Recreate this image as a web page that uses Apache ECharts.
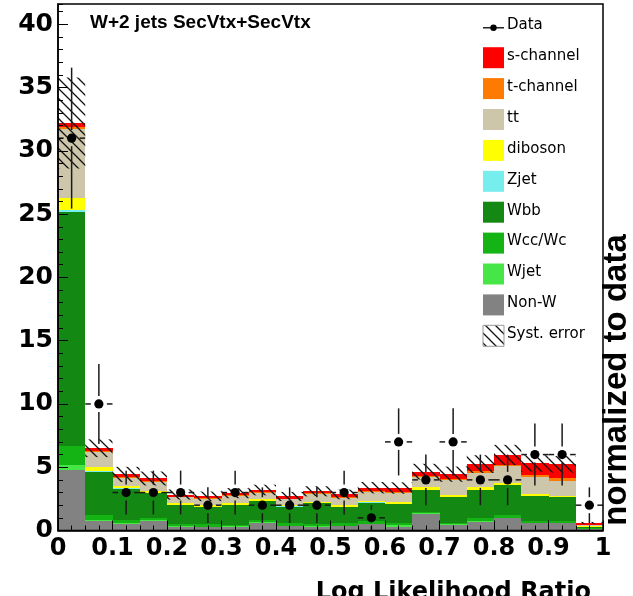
<!DOCTYPE html>
<html>
<head>
<meta charset="utf-8">
<script src="https://cdn.jsdelivr.net/npm/echarts@6/dist/echarts.min.js"></script>
<style>
  html, body { margin: 0; padding: 0; background: #fff; }
  #chart { width: 633px; height: 596px; }
</style>
</head>
<body>
<div id="chart"></div>
<script>
// Histogram bin edges of the log-likelihood-ratio discriminant
const binEdges = [0, 0.05, 0.1, 0.15, 0.2, 0.25, 0.3, 0.35, 0.4, 0.45, 0.5,
                  0.55, 0.6, 0.65, 0.7, 0.75, 0.8, 0.85, 0.9, 0.95, 1.0];

// Expected events per bin for each process (stacked bottom to top)
const nonW     = [4.80, 0.77, 0.55, 0.78, 0.30, 0.25, 0.30, 0.62, 0.35, 0.30, 0.35, 0.50, 0.30, 1.30, 0.43, 0.70, 0.96, 0.57, 0.57, 0.10];
const wjet     = [0.35, 0.05, 0.05, 0.04, 0.05, 0.05, 0.04, 0.04, 0.04, 0.04, 0.04, 0.04, 0.10, 0.05, 0.05, 0.06, 0.06, 0.05, 0.05, 0.03];
const wccWc    = [1.55, 0.40, 0.25, 0.15, 0.20, 0.20, 0.12, 0.18, 0.18, 0.20, 0.18, 0.18, 0.20, 0.14, 0.14, 0.20, 0.18, 0.13, 0.13, 0.07];
const wbb      = [18.5, 3.43, 2.45, 1.97, 1.45, 1.33, 1.54, 1.50, 1.31, 1.61, 1.26, 1.48, 1.50, 1.71, 2.00, 2.24, 2.40, 1.98, 1.87, 0.10];
const zjet     = [0.15, 0.03, 0.03, 0.03, 0.02, 0.02, 0.02, 0.02, 0.02, 0.02, 0.02, 0.02, 0.02, 0.03, 0.03, 0.03, 0.03, 0.02, 0.02, 0.01];
const diboson  = [0.95, 0.32, 0.20, 0.17, 0.18, 0.13, 0.13, 0.12, 0.12, 0.12, 0.15, 0.12, 0.12, 0.17, 0.15, 0.17, 0.15, 0.14, 0.11, 0.04];
const ttbar    = [5.45, 1.20, 0.65, 0.72, 0.42, 0.52, 0.58, 0.52, 0.45, 0.60, 0.60, 0.73, 0.76, 0.80, 1.20, 1.17, 1.32, 1.31, 1.20, 0.05];
const tChannel = [0.10, 0.05, 0.05, 0.05, 0.04, 0.04, 0.04, 0.04, 0.04, 0.05, 0.05, 0.06, 0.06, 0.08, 0.10, 0.10, 0.10, 0.18, 0.18, 0.06];
const sChannel = [0.35, 0.25, 0.20, 0.20, 0.18, 0.16, 0.18, 0.16, 0.18, 0.16, 0.20, 0.25, 0.30, 0.37, 0.35, 0.58, 0.77, 0.92, 1.10, 0.14];

// Systematic uncertainty on the total prediction per bin
const systErr  = [3.60, 0.70, 0.60, 0.55, 0.40, 0.38, 0.40, 0.42, 0.36, 0.40, 0.38, 0.45, 0.45, 0.62, 0.60, 0.70, 0.80, 0.65, 0.65, 0.08];

// Observed events and their statistical errors
const dataCounts = [31, 10, 3, 3, 3, 2, 3, 2, 2, 2, 3, 1, 7, 4, 7, 4, 4, 6, 6, 2];
const dataErrors = [5.57, 3.16, 1.73, 1.73, 1.73, 1.41, 1.73, 1.41, 1.41, 1.41, 1.73, 1.00, 2.65, 2.00, 2.65, 2.00, 2.00, 2.45, 2.45, 1.41];

// Process names and fill colours, bottom of the stack first
const processNames  = ['Non-W', 'Wjet', 'Wcc/Wc', 'Wbb', 'Zjet', 'diboson', 'tt', 't-channel', 's-channel'];
const processValues = [nonW, wjet, wccWc, wbb, zjet, diboson, ttbar, tChannel, sChannel];
const processColors = ['#828282', '#46e646', '#14b414', '#138813', '#76eeee', '#ffff00', '#cdc6aa', '#ff7a00', '#ff0000'];

// Legend entries, top to bottom
const legendNames = ['Data', 's-channel', 't-channel', 'tt', 'diboson', 'Zjet', 'Wbb', 'Wcc/Wc', 'Wjet', 'Non-W', 'Syst. error'];

const yMax = 41.6;
const AXIS_FONT = 'DejaVu Sans';
const TEXT_FONT = 'Liberation Sans, Arial, sans-serif';

// Diagonal hatch tile for the systematic band
function makeHatch() {
  const s = 10;
  const c = document.createElement('canvas');
  c.width = s; c.height = s;
  const g = c.getContext('2d');
  g.strokeStyle = '#111';
  g.lineWidth = 1.3;
  g.beginPath();
  g.moveTo(0, 0); g.lineTo(s, s);
  g.moveTo(-1, s - 1); g.lineTo(1, s + 1);
  g.moveTo(s - 1, -1); g.lineTo(s + 1, 1);
  g.stroke();
  return c;
}
const hatch = { image: makeHatch(), repeat: 'repeat' };

// Cumulative stack edges
const nBins = dataCounts.length;
const stackTops = [];
let running = new Array(nBins).fill(0);
processValues.forEach(vals => {
  const bottoms = running.slice();
  running = running.map((r, i) => r + vals[i]);
  stackTops.push({ bottoms, tops: running.slice() });
});
const totals = running;

function rectItem(params, api) {
  const p0 = api.coord([api.value(0), api.value(3)]);
  const p1 = api.coord([api.value(1), api.value(2)]);
  const x0 = Math.round(p0[0]), x1 = Math.round(p1[0]);
  const y0 = Math.round(p0[1]), y1 = Math.round(p1[1]);
  return {
    type: 'rect',
    shape: { x: x0, y: y0, width: x1 - x0, height: y1 - y0 },
    style: { fill: api.visual('color') }
  };
}

const series = [];
processNames.forEach((name, k) => {
  series.push({
    name: name,
    type: 'custom',
    z: 2,
    itemStyle: { color: processColors[k] },
    encode: { x: [0, 1], y: [2, 3] },
    renderItem: rectItem,
    data: binEdges.slice(0, nBins).map((lo, i) =>
      [lo, binEdges[i + 1], stackTops[k].bottoms[i], stackTops[k].tops[i]])
  });
});

// Hatched systematic band around the total prediction
series.push({
  name: 'Syst. error',
  type: 'custom',
  z: 3,
  encode: { x: [0, 1], y: [2, 3] },
  renderItem: function (params, api) {
    const p0 = api.coord([api.value(0), api.value(3)]);
    const p1 = api.coord([api.value(1), api.value(2)]);
    return {
      type: 'rect',
      shape: { x: p0[0], y: p0[1], width: p1[0] - p0[0], height: p1[1] - p0[1] },
      style: { fill: hatch }
    };
  },
  data: binEdges.slice(0, nBins).map((lo, i) =>
    [lo, binEdges[i + 1], totals[i] - systErr[i], totals[i] + systErr[i]])
});

// Data points with error bars
series.push({
  name: 'Data',
  type: 'custom',
  z: 6,
  encode: { x: [0, 1], y: [2] },
  renderItem: function (params, api) {
    const lo = api.value(0), hi = api.value(1), v = api.value(2), e = api.value(3);
    const c = api.coord([(lo + hi) / 2, v]);
    const left = api.coord([lo, v])[0], right = api.coord([hi, v])[0];
    const top = api.coord([lo, v + e])[1], bot = api.coord([lo, Math.max(v - e, 0)])[1];
    const gap = 8;
    const line = (x1, y1, x2, y2) => ({
      type: 'line', shape: { x1, y1, x2, y2 },
      style: { stroke: '#1a1a1a', lineWidth: 1.5 }
    });
    return {
      type: 'group',
      children: [
        line(left, c[1], c[0] - gap, c[1]),
        line(c[0] + gap, c[1], right, c[1]),
        line(c[0], top, c[0], c[1] - gap),
        line(c[0], c[1] + gap, c[0], bot),
        { type: 'circle', shape: { cx: c[0], cy: c[1], r: 4.6 }, style: { fill: '#000' } }
      ]
    };
  },
  data: binEdges.slice(0, nBins).map((lo, i) => [lo, binEdges[i + 1], dataCounts[i], dataErrors[i]])
});

// Legend block drawn as graphic elements
const legendColorOf = {};
processNames.forEach((n, k) => { legendColorOf[n] = processColors[k]; });
const legendGraphics = [];
const legX = 483, legY0 = 26.8, legStep = 30.9;
legendNames.forEach((name, i) => {
  const cy = legY0 + i * legStep;
  if (name === 'Data') {
    legendGraphics.push({ type: 'line', shape: { x1: legX, y1: cy + 1, x2: legX + 21, y2: cy + 1 },
      style: { stroke: '#000', lineWidth: 1.3 } });
    legendGraphics.push({ type: 'circle', shape: { cx: legX + 10.5, cy: cy + 1, r: 3.2 },
      style: { fill: '#000' } });
  } else if (name === 'Syst. error') {
    legendGraphics.push({ type: 'rect', shape: { x: legX, y: cy - 10.5, width: 21, height: 21 },
      style: { fill: hatch, stroke: '#999', lineWidth: 1 } });
  } else {
    legendGraphics.push({ type: 'rect', shape: { x: legX, y: cy - 10.5, width: 21, height: 21 },
      style: { fill: legendColorOf[name] } });
  }
  legendGraphics.push({ type: 'text', x: legX + 24, y: cy - 1.5,
    style: { text: name, fill: '#000', font: '15px ' + AXIS_FONT, textVerticalAlign: 'middle' } });
});

const chart = echarts.init(document.getElementById('chart'), null, { renderer: 'canvas' });
chart.setOption({
  animation: false,
  backgroundColor: '#fff',
  grid: { left: 58, right: 30, top: 4, bottom: 65.5, show: true, borderColor: '#000', borderWidth: 1.5,
          backgroundColor: 'transparent', z: 10 },
  xAxis: {
    type: 'value', min: 0, max: 1, interval: 0.1, z: 10,
    axisLine: { lineStyle: { color: '#000', width: 1.5 } },
    axisTick: { inside: true, length: 10, lineStyle: { color: '#000', width: 1 } },
    minorTick: { show: true, splitNumber: 4, length: 5, lineStyle: { color: '#000', width: 1 } },
    splitLine: { show: false },
    axisLabel: { color: '#000', fontFamily: AXIS_FONT, fontWeight: 'bold', fontSize: 24, margin: 6 }
  },
  yAxis: [
    {
      type: 'value', min: 0, max: yMax, interval: 5, z: 10,
      axisLine: { lineStyle: { color: '#000', width: 1.5 } },
      axisTick: { inside: true, length: 10, lineStyle: { color: '#000', width: 1 } },
      splitLine: { show: false },
      axisLabel: { color: '#000', fontFamily: AXIS_FONT, fontWeight: 'bold', fontSize: 25, margin: 5,
                   showMaxLabel: false }
    },
    {
      type: 'value', position: 'left', min: 0, max: yMax, interval: 1, z: 10,
      axisLine: { show: false },
      axisTick: { inside: true, length: 5, lineStyle: { color: '#000', width: 1 } },
      axisLabel: { show: false },
      splitLine: { show: false }
    }
  ],
  graphic: [
    { type: 'text', left: 90, top: 13,
      style: { text: 'W+2 jets SecVtx+SecVtx', fill: '#000', font: 'bold 19px ' + TEXT_FONT } },
    { type: 'text', x: 617, y: 380, rotation: Math.PI / 2,
      style: { text: 'normalized to data', fill: '#000', font: 'bold 33px ' + TEXT_FONT,
               textAlign: 'center', textVerticalAlign: 'middle' } },
    { type: 'text', x: 591, y: 581,
      style: { text: 'Log Likelihood Ratio', fill: '#000', font: 'bold 24px ' + AXIS_FONT,
               textAlign: 'right', textVerticalAlign: 'top' } }
  ].concat(legendGraphics),
  series: series
});
</script>
</body>
</html>
